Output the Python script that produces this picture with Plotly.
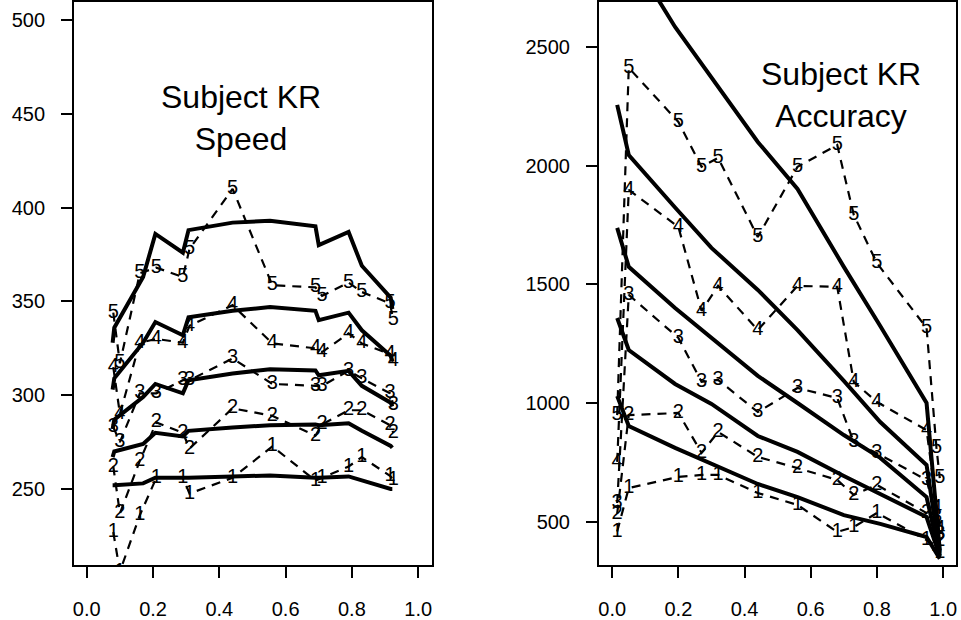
import plotly.graph_objects as go

# ---------------- data ----------------
quantile_labels = ["1", "2", "3", "4", "5"]

# Left panel: Speed
speed_fit_x = [0.078, 0.083, 0.17, 0.207, 0.29, 0.307, 0.44, 0.553, 0.69, 0.70, 0.79, 0.83, 0.917, 0.922]
speed_fit_1 = [252, 252, 253, 256, 256, 256, 256.7, 257.2, 256, 256, 256.7, 254.5, 250, 250]
speed_fit_2 = [267, 270, 274, 280, 278, 281, 282.8, 284, 284.4, 284, 285, 281, 273, 272]
speed_fit_3 = [282, 287, 299, 306, 301, 308, 311.6, 313.8, 313.2, 310.6, 313, 305, 296, 294]
speed_fit_4 = [303, 309, 328, 339, 332, 341.5, 345, 347, 345, 340, 344, 334.6, 321, 318]
speed_fit_5 = [328, 336, 363, 386, 376, 388, 392, 393, 390, 380, 387, 369, 352, 346]

speed_obs_x = [0.08, 0.10, 0.16, 0.21, 0.29, 0.31, 0.44, 0.56, 0.69, 0.71, 0.79, 0.83, 0.915, 0.925]
speed_obs_1 = [227, 206, 236, 256, 256, 247.6, 256, 272.7, 254.5, 256, 262, 267, 257, 255]
speed_obs_2 = [262, 237, 265, 285.5, 280, 271.6, 293, 289, 278.5, 284.4, 292, 292, 284, 280]
speed_obs_3 = [283, 275, 301, 301, 308, 308, 319.6, 306, 305, 305, 313, 309, 301, 295]
speed_obs_4 = [315, 290, 328, 330, 328, 337, 348, 327.6, 325, 323, 333, 327.6, 322, 318]
speed_obs_5 = [344, 317, 365, 368, 363, 378, 410, 358.6, 357.5, 353, 360, 355, 349, 340]

# Right panel: Accuracy
acc_fit_x = [0.015, 0.05, 0.19, 0.30, 0.44, 0.56, 0.70, 0.81, 0.95, 0.99]
acc_fit_1 = [1030, 904, 812, 744, 660, 605, 529, 492, 437, 345]
acc_fit_2 = [1359, 1224, 1081, 997, 862, 795, 694, 618, 521, 355]
acc_fit_3 = [1738, 1574, 1401, 1275, 1115, 1001, 866, 770, 605, 360]
acc_fit_4 = [2256, 2045, 1824, 1654, 1477, 1308, 1094, 921, 740, 370]
acc_fit_5 = [3150, 2900, 2584, 2369, 2100, 1902, 1574, 1325, 1001, 380]

acc_obs_x = [0.015, 0.05, 0.20, 0.27, 0.32, 0.44, 0.56, 0.68, 0.73, 0.80, 0.95, 0.98, 0.99]
acc_obs_1 = [460, 643, 690, 698, 698, 622, 572, 458, 479, 538, 424, 400, 370]
acc_obs_2 = [535, 950, 959, 791, 879, 774, 727, 677, 614, 656, 538, 470, 420]
acc_obs_3 = [580, 1456, 1275, 1090, 1098, 963, 1064, 1022, 837, 790, 677, 520, 450]
acc_obs_4 = [753, 1898, 1742, 1389, 1494, 1308, 1494, 1490, 1090, 1005, 887, 560, 470]
acc_obs_5 = [950, 2412, 2184, 1995, 2033, 1700, 1995, 2087, 1793, 1590, 1317, 812, 685]

x_ticks = [0.0, 0.2, 0.4, 0.6, 0.8, 1.0]
speed_y_ticks = [250, 300, 350, 400, 450, 500]
acc_y_ticks = [500, 1000, 1500, 2000, 2500]

# ---------------- figure ----------------
FONT = "Liberation Sans, Arial, Helvetica, sans-serif"
fig = go.Figure()

panels = [
    ("x", "y", speed_fit_x, [speed_fit_1, speed_fit_2, speed_fit_3, speed_fit_4, speed_fit_5],
     speed_obs_x, [speed_obs_1, speed_obs_2, speed_obs_3, speed_obs_4, speed_obs_5]),
    ("x2", "y2", acc_fit_x, [acc_fit_1, acc_fit_2, acc_fit_3, acc_fit_4, acc_fit_5],
     acc_obs_x, [acc_obs_1, acc_obs_2, acc_obs_3, acc_obs_4, acc_obs_5]),
]

for xa, ya, fx, fits, ox, obs in panels:
    for f in fits:
        fig.add_trace(go.Scatter(x=fx, y=f, mode="lines", xaxis=xa, yaxis=ya,
                                 line=dict(color="black", width=4), showlegend=False,
                                 hoverinfo="skip"))
    for lab, o in zip(quantile_labels, obs):
        fig.add_trace(go.Scatter(x=ox, y=o, mode="lines+text", xaxis=xa, yaxis=ya,
                                 text=[lab] * len(ox), textposition="middle center",
                                 textfont=dict(family=FONT, size=20, color="black"),
                                 line=dict(color="black", width=2.2, dash="9px,7px"),
                                 showlegend=False, hoverinfo="skip"))

W, H = 961, 620
def fx_(px):
    return px / W
def fy_(py):
    return 1 - py / H

axis_common = dict(showgrid=False, zeroline=False, showline=True, mirror=True,
                   linecolor="black", linewidth=1.5, ticks="outside", ticklen=11,
                   tickwidth=1.5, tickcolor="black",
                   tickfont=dict(family=FONT, size=20, color="black"))

fig.update_layout(
    width=W, height=H,
    margin=dict(l=0, r=0, t=0, b=0),
    paper_bgcolor="white", plot_bgcolor="white",
    xaxis=dict(domain=[fx_(73), fx_(432)], range=[-0.039, 1.042], anchor="y",
               tickvals=x_ticks, tickformat=".1f", ticklabelstandoff=14, **axis_common),
    yaxis=dict(domain=[fy_(565), fy_(2)], range=[209.5, 509.6], anchor="x",
               tickvals=speed_y_ticks, ticklabelstandoff=12, **axis_common),
    xaxis2=dict(domain=[fx_(599), fx_(957)], range=[-0.0407, 1.039], anchor="y2",
                tickvals=x_ticks, tickformat=".1f", ticklabelstandoff=14, **axis_common),
    yaxis2=dict(domain=[fy_(565), fy_(2)], range=[319, 2689], anchor="x2",
                tickvals=acc_y_ticks, ticklabelstandoff=12, **axis_common),
    annotations=[
        dict(text="Subject KR<br>Speed", x=0.464, y=447.5, xref="x", yref="y",
             showarrow=False, font=dict(family=FONT, size=32, color="black")),
        dict(text="Subject KR<br>Accuracy", x=0.692, y=2298, xref="x2", yref="y2",
             showarrow=False, font=dict(family=FONT, size=32, color="black")),
    ],
)

fig.write_html("out.html")
